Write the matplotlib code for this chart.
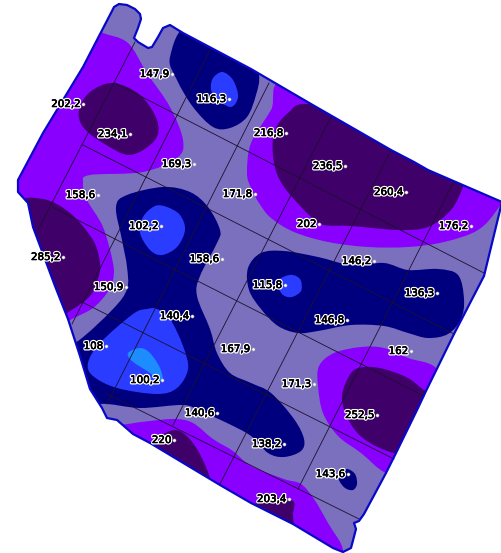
import matplotlib
matplotlib.use("Agg")
from matplotlib import pyplot as plt
from matplotlib.path import Path
from matplotlib.patches import PathPatch, Polygon
import matplotlib.patheffects as pe

# sample points of the field (map coordinates)
point_x = [172, 229, 83, 130, 286, 194, 345, 255, 98, 406, 319, 471, 161, 222, 374, 63,
           126, 437, 285, 192, 347, 106, 253, 411, 162, 314, 377, 217, 284, 174, 348, 289]
point_y = [74, 99, 104, 134, 133, 164, 166, 194, 195, 192, 224, 226, 226, 259, 261, 257,
           287, 293, 285, 316, 320, 346, 349, 351, 380, 384, 415, 413, 444, 440, 474, 499]
point_labels = ["147,9", "116,3", "202,2", "234,1", "216,8", "169,3", "236,5", "171,8",
                "158,6", "260,4", "202", "176,2", "102,2", "158,6", "146,2", "285,2",
                "150,9", "136,3", "115,8", "140,4", "146,8", "108", "167,9", "162",
                "100,2", "171,3", "252,5", "140,6", "138,2", "220", "143,6", "203,4"]

# field outline
outline = [(112, 11), (114, 7), (119, 4), (127, 5), (135, 9), (140, 14), (141, 19), (138, 28), (134, 38),
           (138, 42), (148, 48), (152, 47), (158, 37), (163, 28), (170, 25), (183, 33), (251, 69),
           (311, 104), (391, 150), (414, 162), (428, 170), (502, 202),
           (484, 276), (454, 334), (426, 391), (418, 408), (396, 453), (386, 473), (364, 514),
           (359, 521), (354, 523), (356, 529), (351, 548), (343, 552), (333, 548), (293, 524),
           (251, 503), (220, 485), (150, 443), (133, 434), (117, 420), (107, 418), (102, 408),
           (90, 389), (80, 356), (68, 319), (55, 286), (33, 227), (28, 203), (18, 192), (18, 180),
           (43, 133), (83, 67)]

# classes of the map, lowest to highest layer
violet_left = [(95, 28), (103, 33), (128, 43), (147, 73), (170, 107), (183, 140), (177, 158),
               (143, 172), (90, 175), (83, 183), (87, 200), (103, 227), (113, 263), (113, 280),
               (107, 293), (93, 308), (72, 319), (40, 335), (0, 250), (0, 100), (50, 30)]
violet_right = [(287, 80), (271, 110), (251, 143), (247, 173), (251, 188), (259, 203), (271, 218),
                (294, 232), (328, 242), (368, 247), (408, 247), (444, 242), (478, 230), (499, 207),
                (520, 170), (400, 100)]
violet_low_right = [(361, 347), (334, 353), (319, 366), (318, 386), (323, 413), (338, 436),
                    (361, 453), (386, 473), (420, 480), (450, 400), (436, 368), (408, 358), (384, 348)]
violet_bottom = [(110, 428), (128, 424), (150, 421), (175, 419), (193, 423), (213, 439), (233, 451),
                 (251, 466), (284, 479), (301, 484), (314, 499), (328, 523), (343, 551), (330, 575),
                 (200, 520), (110, 450)]

dark_top_left = [(113, 83), (140, 95), (157, 120), (155, 140), (130, 155), (103, 143), (83, 127),
                 (79, 110), (90, 92)]
dark_left = [(15, 205), (43, 199), (70, 213), (93, 240), (100, 263), (98, 279), (90, 296),
             (70, 311), (50, 320), (10, 260)]
dark_right = [(311, 104), (288, 113), (274, 133), (274, 163), (284, 187), (311, 217), (324, 225),
              (351, 226), (398, 230), (428, 227), (451, 210), (463, 187), (470, 165), (400, 120)]
dark_low_right = [(364, 367), (351, 373), (342, 396), (348, 419), (364, 439), (394, 453), (420, 450),
                  (445, 395), (426, 391), (408, 378), (384, 369)]
dark_bottom = [(140, 450), (150, 443), (170, 431), (183, 433), (197, 449), (210, 478), (215, 510), (170, 480)]
dark_bottom_2 = [(250, 512), (258, 502), (272, 498), (293, 501), (293, 515), (293, 540), (270, 530)]

navy_top = [(190, 25), (170, 57), (177, 80), (193, 107), (213, 127), (230, 128), (247, 117),
            (256, 95), (259, 75), (250, 50)]
navy_center = [(163, 187), (127, 195), (116, 207), (122, 240), (127, 267), (127, 289), (113, 309),
               (78, 341), (55, 350), (75, 415), (100, 404), (140, 408), (183, 405), (200, 411),
               (227, 423), (251, 436), (268, 453), (284, 457), (301, 451), (304, 439), (294, 419),
               (271, 393), (251, 383), (230, 373), (217, 353), (210, 329), (197, 296), (200, 276),
               (217, 243), (220, 230), (208, 207), (190, 192)]
navy_right = [(248, 268), (261, 253), (284, 251), (318, 257), (351, 265), (384, 263), (408, 270),
              (438, 269), (458, 275), (464, 299), (461, 319), (448, 334), (428, 338), (408, 333),
              (384, 326), (351, 325), (318, 331), (298, 333), (278, 326), (261, 309), (249, 290)]
navy_spot = [(347, 469), (341, 474), (339, 480), (345, 488), (353, 490), (357, 484), (355, 474)]

blue_top = [(222, 72), (212, 80), (213, 95), (230, 107), (238, 97), (233, 80)]
blue_center = [(155, 206), (143, 217), (140, 233), (150, 250), (162, 255), (177, 247), (185, 230),
               (180, 215), (167, 207)]
blue_low = [(147, 309), (133, 314), (100, 343), (88, 363), (93, 376), (117, 388), (157, 394),
            (177, 388), (188, 369), (183, 346), (170, 319), (157, 309)]
blue_right = [(289, 275), (280, 279), (278, 286), (283, 295), (292, 297), (301, 291), (301, 281), (296, 276)]
light_blue = [(140, 348), (128, 353), (132, 361), (147, 371), (162, 381), (160, 368), (150, 353)]

# plot grid
grid_lines = [((135, 42), (38, 230)), ((210, 50), (72, 324)), ((269, 83), (107, 404)),
              ((331, 117), (173, 425)), ((391, 150), (220, 484)), ((453, 183), (298, 489)),
              ((115, 83), (484, 273)), ((83, 145), (454, 334)), ((52, 207), (424, 396)),
              ((78, 300), (394, 459)), ((105, 393), (359, 519))]

BASE = "#7b70bd"
VIOLET = "#8a00ff"
DARK = "#40006a"
NAVY = "#00007f"
BLUE = "#2a3cff"
LIGHT = "#1c8cff"


def smooth_path(pts):
    """Closed curve going through all the points (Catmull-Rom as cubic segments)."""
    n = len(pts)
    verts = [pts[0]]
    codes = [Path.MOVETO]
    for i in range(n):
        p0, p1, p2, p3 = pts[i - 1], pts[i], pts[(i + 1) % n], pts[(i + 2) % n]
        verts.append((p1[0] + (p2[0] - p0[0]) / 6, p1[1] + (p2[1] - p0[1]) / 6))
        verts.append((p2[0] - (p3[0] - p1[0]) / 6, p2[1] - (p3[1] - p1[1]) / 6))
        verts.append(p2)
        codes += [Path.CURVE4, Path.CURVE4, Path.CURVE4]
    return Path(verts, codes)


fig = plt.figure(figsize=(5.02, 5.53), dpi=100)
ax = fig.add_axes([0, 0, 1, 1])
ax.set_xlim(0, 502)
ax.set_ylim(553, 0)
ax.axis("off")

field = Polygon(outline, closed=True, facecolor=BASE, edgecolor="none", zorder=1)
ax.add_patch(field)

layers = [(violet_left, VIOLET), (violet_right, VIOLET), (violet_low_right, VIOLET), (violet_bottom, VIOLET),
          (dark_top_left, DARK), (dark_left, DARK), (dark_right, DARK), (dark_low_right, DARK),
          (dark_bottom, DARK), (dark_bottom_2, DARK),
          (navy_top, NAVY), (navy_center, NAVY), (navy_right, NAVY), (navy_spot, NAVY),
          (blue_top, BLUE), (blue_center, BLUE), (blue_low, BLUE), (blue_right, BLUE),
          (light_blue, LIGHT)]
for pts, color in layers:
    p = PathPatch(smooth_path(pts), facecolor=color, edgecolor="none", zorder=2)
    ax.add_patch(p)
    p.set_clip_path(field)

for a, b in grid_lines:
    ax.plot([a[0], b[0]], [a[1], b[1]], color="#1a1030", lw=0.6, zorder=3)

ax.add_patch(Polygon(outline, closed=True, facecolor="none", edgecolor="#0808c8", lw=1.6,
                     joinstyle="round", zorder=4))

ax.scatter(point_x, point_y, s=5, facecolor="white", edgecolor="#aaaaaa", linewidth=0.4, zorder=5)
for x, y, s in zip(point_x, point_y, point_labels):
    ax.text(x - 3, y, s, ha="right", va="center", fontsize=7.4, color="black", zorder=6,
            path_effects=[pe.withStroke(linewidth=2.2, foreground="white"),
                          pe.withStroke(linewidth=0.4, foreground="black")])

fig.savefig("out.png", dpi=100)
